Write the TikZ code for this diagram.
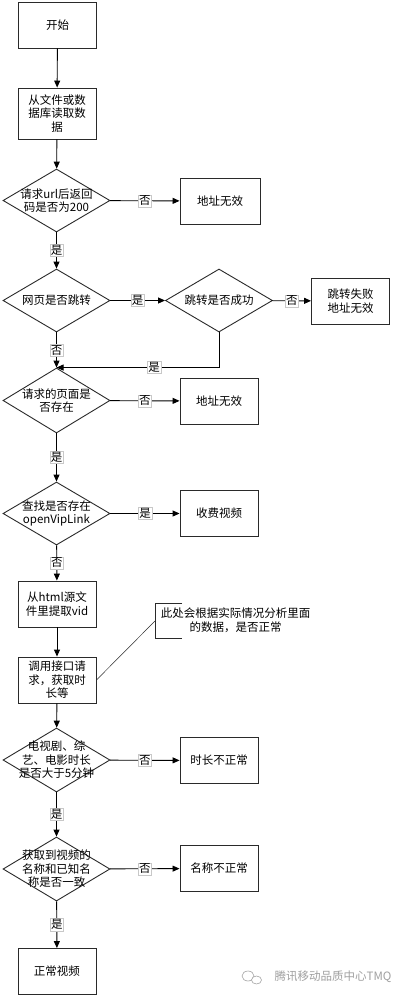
\documentclass[tikz,border=0pt]{standalone}
\usepackage{fontspec}
\usepackage{xcolor}
\usepackage{tikz}
\usetikzlibrary{shapes.geometric,arrows.meta}
\setmainfont{Noto Sans CJK SC}
\definecolor{border}{HTML}{2A2A2A}
\definecolor{tagline}{HTML}{C8C8C8}
\definecolor{wmark}{HTML}{A0A0A0}
\tikzset{
  box/.style={draw=border, line width=0.9pt, minimum width=78pt, minimum height=46pt,
    align=center, inner sep=1pt, font=\fontsize{11.5}{13.5}\selectfont},
  decide/.style={diamond, draw=border, line width=0.9pt, minimum width=107pt,
    minimum height=63pt, inner sep=0pt},
  lab/.style={align=center, inner sep=0pt, font=\fontsize{11.5}{13.5}\selectfont},
  arr/.style={-{Triangle[length=7pt,width=6pt]}, line width=0.9pt, draw=black},
  yn/.style={fill=white, draw=tagline, line width=0.4pt, inner sep=1pt,
    font=\fontsize{11.5}{12}\selectfont},
  note/.style={align=center, inner sep=0pt, font=\fontsize{11.5}{14}\selectfont},
  thin line/.style={draw=border, line width=0.5pt},
  wm/.style={text=wmark, inner sep=0pt, font=\fontsize{11.5}{12}\selectfont}
}

\begin{document}
\begin{tikzpicture}[x=1pt, y=-1pt]
  \useasboundingbox[fill=white] (0,0) rectangle (412,999);

  % main column
  \node[box] (start) at (57.5,25) {开始};
  \node[box, minimum height=51pt] (read) at (57,113.5) {从文件或数\\据库读取数\\据};
  \node[decide, label={[lab]center:请求url后返回\\码是否为200}] (code) at (56.5,200.5) {};
  \node[decide, label={[lab]center:网页是否跳转}] (jump) at (56.5,300.5) {};
  \node[decide, label={[lab]center:跳转是否成功}] (jumpok) at (219,300.5) {};
  \node[decide, minimum height=65pt, label={[lab]center:请求的页面是\\否存在}] (page) at (56.5,400.5) {};
  \node[decide, label={[lab]center:查找是否存在\\openVipLink}] (vip) at (56.5,513.5) {};
  \node[box] (vid) at (57,604) {从html源文\\件里提取vid};
  \node[box] (api) at (57,680) {调用接口请\\求，获取时\\长等};
  \node[decide, minimum height=64pt, label={[lab]center:电视剧、综\\艺、电影时长\\是否大于5分钟}] (dur) at (56.5,760) {};
  \node[decide, minimum height=64pt, label={[lab]center:获取到视频的\\名称和已知名\\称是否一致}] (name) at (56.5,869) {};
  \node[box] (ok) at (57,971.5) {正常视频};

  % right column
  \node[box, minimum width=80pt] (bad1) at (220,201) {地址无效};
  \node[box] (bad2) at (350.5,301) {跳转失败\\地址无效};
  \node[box] (bad3) at (219,401) {地址无效};
  \node[box] (paid) at (219,513.5) {收费视频};
  \node[box] (baddur) at (219,760.5) {时长不正常};
  \node[box] (badname) at (219,868.5) {名称不正常};

  % connectors
  \draw[arr] (start) -- (read);
  \draw[arr] (read) -- (code);
  \draw[arr] (code) -- (bad1) node[yn, midway] {否};
  \draw[arr] (code) -- (jump) node[yn, midway] {是};
  \draw[arr] (jump) -- (jumpok) node[yn, midway] {是};
  \draw[arr] (jumpok) -- (bad2) node[yn, midway] {否};
  \draw[arr] (jump) -- (page) node[yn, midway] {否};
  \draw[arr] (jumpok.south) |- (page.north) node[yn, pos=0.7] {是};
  \draw[arr] (page) -- (bad3) node[yn, midway] {否};
  \draw[arr] (page) -- (vip) node[yn, midway] {是};
  \draw[arr] (vip) -- (paid) node[yn, midway] {是};
  \draw[arr] (vip) -- (vid) node[yn, midway] {否};
  \draw[arr] (vid) -- (api);
  \draw[arr] (api) -- (dur);
  \draw[arr] (dur) -- (baddur) node[yn, midway] {否};
  \draw[arr] (dur) -- (name) node[yn, midway] {是};
  \draw[arr] (name) -- (badname) node[yn, midway] {否};
  \draw[arr] (name) -- (ok) node[yn, midway] {是};

  % annotation
  \node[note] (remark) at (235.5,620) {此处会根据实际情况分析里面\\的数据，是否正常};
  \coordinate (hook) at (155,621);
  \draw[thin line] (182,603) -- (155,603) -- (155,638) -- (182,638);
  \draw[thin line] (hook) -- (api.east);

  % watermark
  \draw[wmark, line width=0.6pt] (248,976) ellipse (6pt and 5pt);
  \draw[wmark, line width=0.6pt, fill=white] (256.5,980) ellipse (5pt and 4pt);
  \node[wm] (brand) at (333,977) {腾讯移动品质中心TMQ};
\end{tikzpicture}
\end{document}
